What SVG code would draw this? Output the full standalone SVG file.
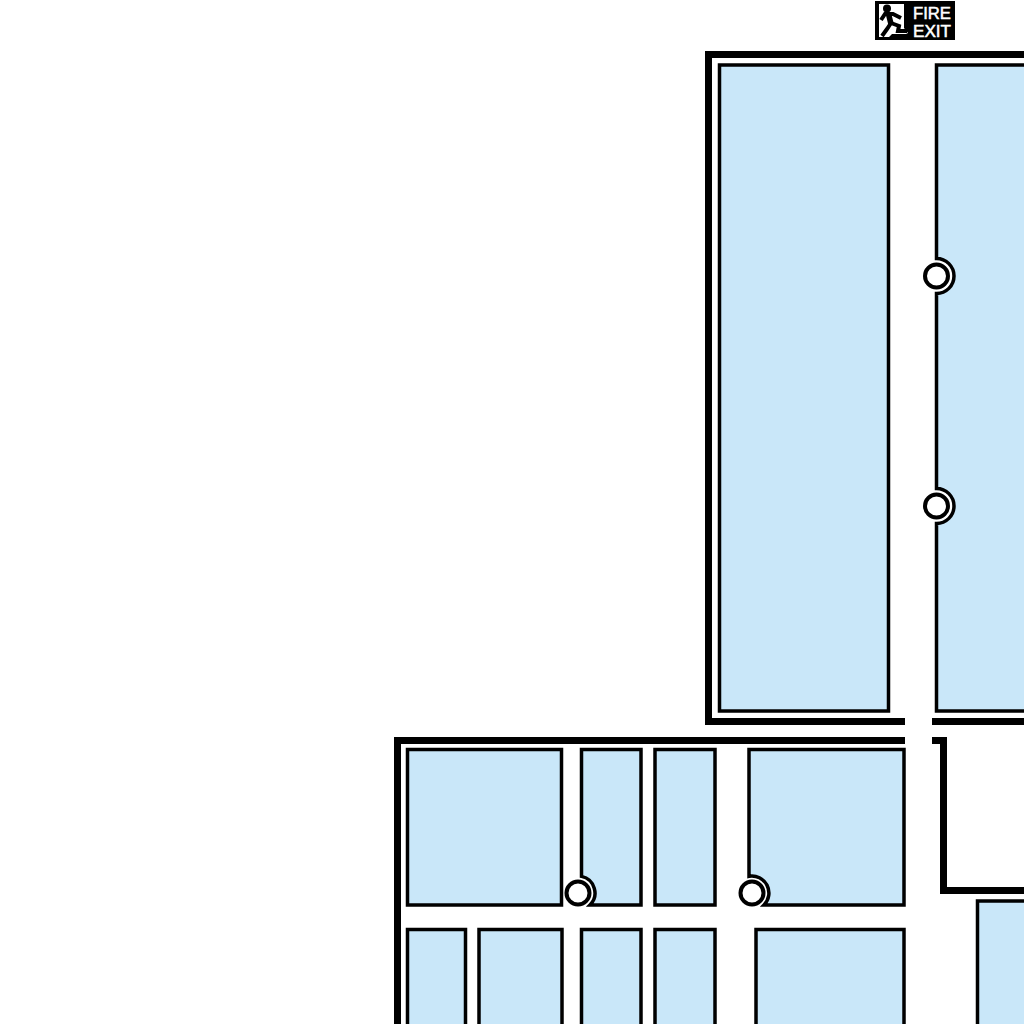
<svg xmlns="http://www.w3.org/2000/svg" width="1024" height="1024" viewBox="0 0 1024 1024">
<style>
.wall{fill:none;stroke:#000;stroke-width:7;stroke-linejoin:miter}
.room{fill:#c9e7f9;stroke:#000;stroke-width:3.500}
.door{fill:#fff;stroke:#000;stroke-width:4}
.sign{font-family:"Liberation Sans",Arial,sans-serif;font-size:16.500px;fill:#fff;stroke:#fff;stroke-width:.5}
.man{fill:none;stroke:#000;stroke-width:4;stroke-linejoin:miter}
</style>
<rect width="1024" height="1024" fill="#fff"/>
<g id="walls">
<path class="wall" d="M905 721.500H708.500V54.500H1030"/>
<path class="wall" d="M932 721.500H1030"/>
<path class="wall" d="M905 740.500H397.500V1030"/>
<path class="wall" d="M932 740.500H943.500V890.500H1030"/>
</g>
<g id="rooms">
<rect class="room" x="719.500" y="65" width="169" height="646"/>
<path class="room" d="M1030 65H936.500V258.500A17.500 17.500 0 0 1 936.500 293.500V488.500A17.500 17.500 0 0 1 936.500 523.500V711H1030Z"/>
<rect class="room" x="407.500" y="749.500" width="154" height="155.500"/>
<path class="room" d="M581.500 749.500H641V905H590A17 17 0 0 0 581.500 876.400Z"/>
<rect class="room" x="655" y="749.500" width="60" height="155.500"/>
<path class="room" d="M749 749.500H904V905H764A17 17 0 0 0 749 876.300Z"/>
<rect class="room" x="407.500" y="929.500" width="58" height="100"/>
<rect class="room" x="479" y="929.500" width="83" height="100"/>
<rect class="room" x="581.500" y="929.500" width="59.500" height="100"/>
<rect class="room" x="655" y="929.500" width="60" height="100"/>
<rect class="room" x="756" y="929.500" width="148" height="100"/>
<rect class="room" x="977.500" y="901" width="60" height="130"/>
</g>
<g id="doors">
<circle class="door" cx="936.500" cy="276" r="11.500"/>
<circle class="door" cx="936.500" cy="506" r="11.500"/>
<circle class="door" cx="578" cy="893" r="11.500"/>
<circle class="door" cx="752" cy="893" r="11.500"/>
</g>
<g id="fire-exit">
<rect x="875" y="1" width="80" height="39" fill="#000"/>
<path fill="#fff" d="M879 4H904V28L908 33L906 34H892L889 37H879Z"/>
<circle cx="887" cy="8.500" r="4" fill="#000"/>
<path class="man" d="M881 20L885 14H893L901 18"/>
<path class="man" style="stroke-width:5.500" d="M888.500 14L891 24"/>
<path class="man" d="M891 23L887 29L882 36"/>
<path class="man" d="M891 23L899 26L898 31H907"/>
<text class="sign" x="913" y="18.500" textLength="38" lengthAdjust="spacingAndGlyphs">FIRE</text>
<text class="sign" x="913" y="37" textLength="38" lengthAdjust="spacingAndGlyphs">EXIT</text>
</g>
</svg>
